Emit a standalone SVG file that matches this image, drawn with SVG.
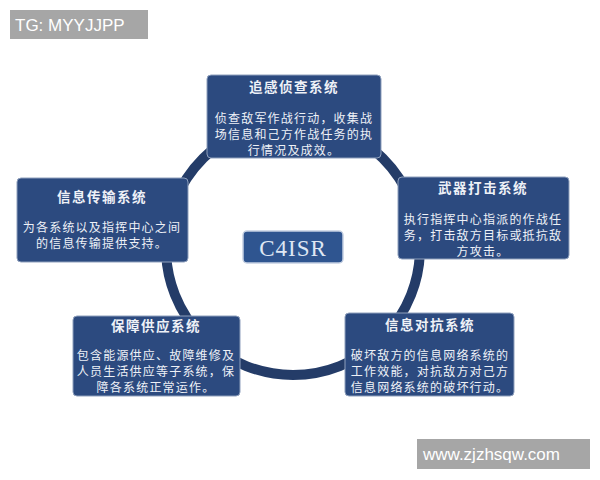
<svg xmlns="http://www.w3.org/2000/svg" width="600" height="480" viewBox="0 0 600 480">
<style>
.box{fill:#2c4a7f;stroke:#8fa0bd;stroke-width:1}
.t{font-family:"Noto Sans CJK SC","Noto Sans CJK JP",sans-serif;fill:#eef1f7;text-anchor:middle}
.h{font-size:13.5px;font-weight:bold;letter-spacing:1.5px}
.b{font-size:12px;letter-spacing:1.2px}
.wm{fill:#a6a6a6}
.wt{font-family:"Liberation Sans",Arial,sans-serif;font-size:17px;fill:#ffffff}
</style>
<rect width="600" height="480" fill="#ffffff"/>
<g id="connectors">
<circle cx="293" cy="248" r="127" fill="none" stroke="#243c68" stroke-width="10"/>
</g>
<g id="node-top">
<rect class="box" x="207" y="75" width="174" height="83" rx="4"/>
<text class="t h" x="294" y="92">追感侦查系统</text>
<text class="t b" x="294" y="123">侦查敌军作战行动，收集战</text>
<text class="t b" x="294" y="139">场信息和己方作战任务的执</text>
<text class="t b" x="294" y="155">行情况及成效。</text>
</g>
<g id="node-right">
<rect class="box" x="398" y="177" width="171" height="82" rx="4"/>
<text class="t h" x="483" y="193">武器打击系统</text>
<text class="t b" x="483" y="224">执行指挥中心指派的作战任</text>
<text class="t b" x="483" y="240">务，打击敌方目标或抵抗敌</text>
<text class="t b" x="483" y="256">方攻击。</text>
</g>
<g id="node-left">
<rect class="box" x="17" y="178" width="171" height="84" rx="4"/>
<text class="t h" x="102" y="202">信息传输系统</text>
<text class="t b" x="102" y="232">为各系统以及指挥中心之间</text>
<text class="t b" x="102" y="248">的信息传输提供支持。</text>
</g>
<g id="node-bottom-left">
<rect class="box" x="73" y="316" width="167" height="80" rx="4"/>
<text class="t h" x="156" y="331">保障供应系统</text>
<text class="t b" x="156" y="360">包含能源供应、故障维修及</text>
<text class="t b" x="156" y="376">人员生活供应等子系统，保</text>
<text class="t b" x="156" y="392">障各系统正常运作。</text>
</g>
<g id="node-bottom-right">
<rect class="box" x="345" y="313" width="169" height="83" rx="4"/>
<text class="t h" x="430" y="330">信息对抗系统</text>
<text class="t b" x="430" y="360">破坏敌方的信息网络系统的</text>
<text class="t b" x="430" y="376">工作效能，对抗敌方对己方</text>
<text class="t b" x="430" y="392">信息网络系统的破坏行动。</text>
</g>
<g id="node-center">
<rect x="243" y="231" width="100" height="32" rx="4" fill="#2f5590" stroke="#c5d0e2" stroke-width="1.5"/>
<text x="293" y="256" font-family="'Liberation Serif','Times New Roman',serif" font-size="23" fill="#dfe7f3" text-anchor="middle" letter-spacing="1">C4ISR</text>
</g>
<g id="watermarks">
<rect class="wm" x="10" y="10" width="138" height="29"/>
<text class="wt" x="15" y="31">TG: MYYJJPP</text>
<rect class="wm" x="417" y="439" width="173" height="30"/>
<text class="wt" x="423" y="460">www.zjzhsqw.com</text>
</g>
</svg>
